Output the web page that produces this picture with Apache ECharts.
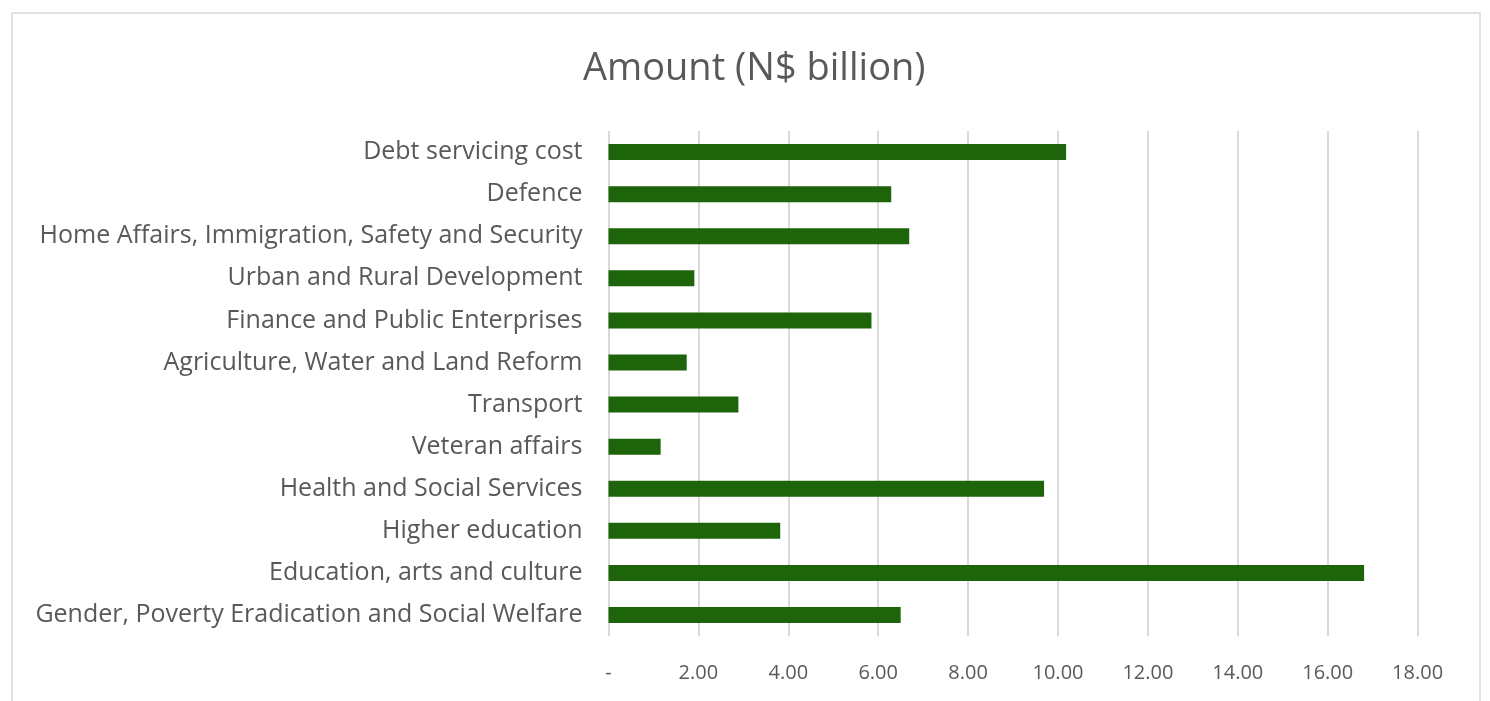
<!DOCTYPE html>
<html>
<head>
<meta charset="utf-8">
<script src="https://cdn.jsdelivr.net/npm/echarts@6/dist/echarts.min.js"></script>
<style>html,body{margin:0;padding:0;background:#fff;}#c{width:1490px;height:701px;}</style>
</head>
<body>
<div id="c"></div>
<script>
var categories = [
  "Gender, Poverty Eradication and Social Welfare",
  "Education, arts and culture",
  "Higher education",
  "Health and Social Services",
  "Veteran affairs",
  "Transport",
  "Agriculture, Water and Land Reform",
  "Finance and Public Enterprises",
  "Urban and Rural Development",
  "Home Affairs, Immigration, Safety and Security",
  "Defence",
  "Debt servicing cost"
];
var amounts = [6.50, 16.81, 3.82, 9.69, 1.16, 2.89, 1.74, 5.85, 1.91, 6.69, 6.29, 10.18];
var titleText = "Amount (N$ billion)";

var chart = echarts.init(document.getElementById('c'), null, {renderer: 'canvas'});
var FONT = 'Open Sans';
chart.setOption({
  animation: false,
  backgroundColor: '#ffffff',
  title: {
    text: titleText, left: 578, top: 45,
    textStyle: {fontFamily: FONT, fontSize: 38, fontWeight: 'normal', color: '#595959'}
  },
  graphic: [{
    type: 'rect', shape: {x: 12, y: 13, width: 1468, height: 700},
    style: {fill: 'none', stroke: '#d9d9d9', lineWidth: 1.5}, silent: true, z: -1
  }],
  grid: {left: 608.5, right: 72.4, top: 131, bottom: 65, containLabel: false},
  xAxis: {
    type: 'value', min: 0, max: 18, interval: 2,
    axisLine: {show: false}, axisTick: {show: false},
    splitLine: {show: true, lineStyle: {color: '#d9d9d9', width: 2}},
    axisLabel: {
      fontFamily: FONT, fontSize: 20, color: '#595959', margin: 27,
      formatter: function (v) { return v === 0 ? '-' : v.toFixed(2); }
    }
  },
  yAxis: {
    type: 'category', data: categories,
    axisLine: {show: false}, axisTick: {show: false},
    axisLabel: {fontFamily: FONT, fontSize: 25, color: '#595959', margin: 26, padding: [3, 0, 0, 0]}
  },
  series: [{
    type: 'bar', data: amounts, barWidth: 16,
    itemStyle: {color: '#1e640a'}
  }]
});
</script>
</body>
</html>
